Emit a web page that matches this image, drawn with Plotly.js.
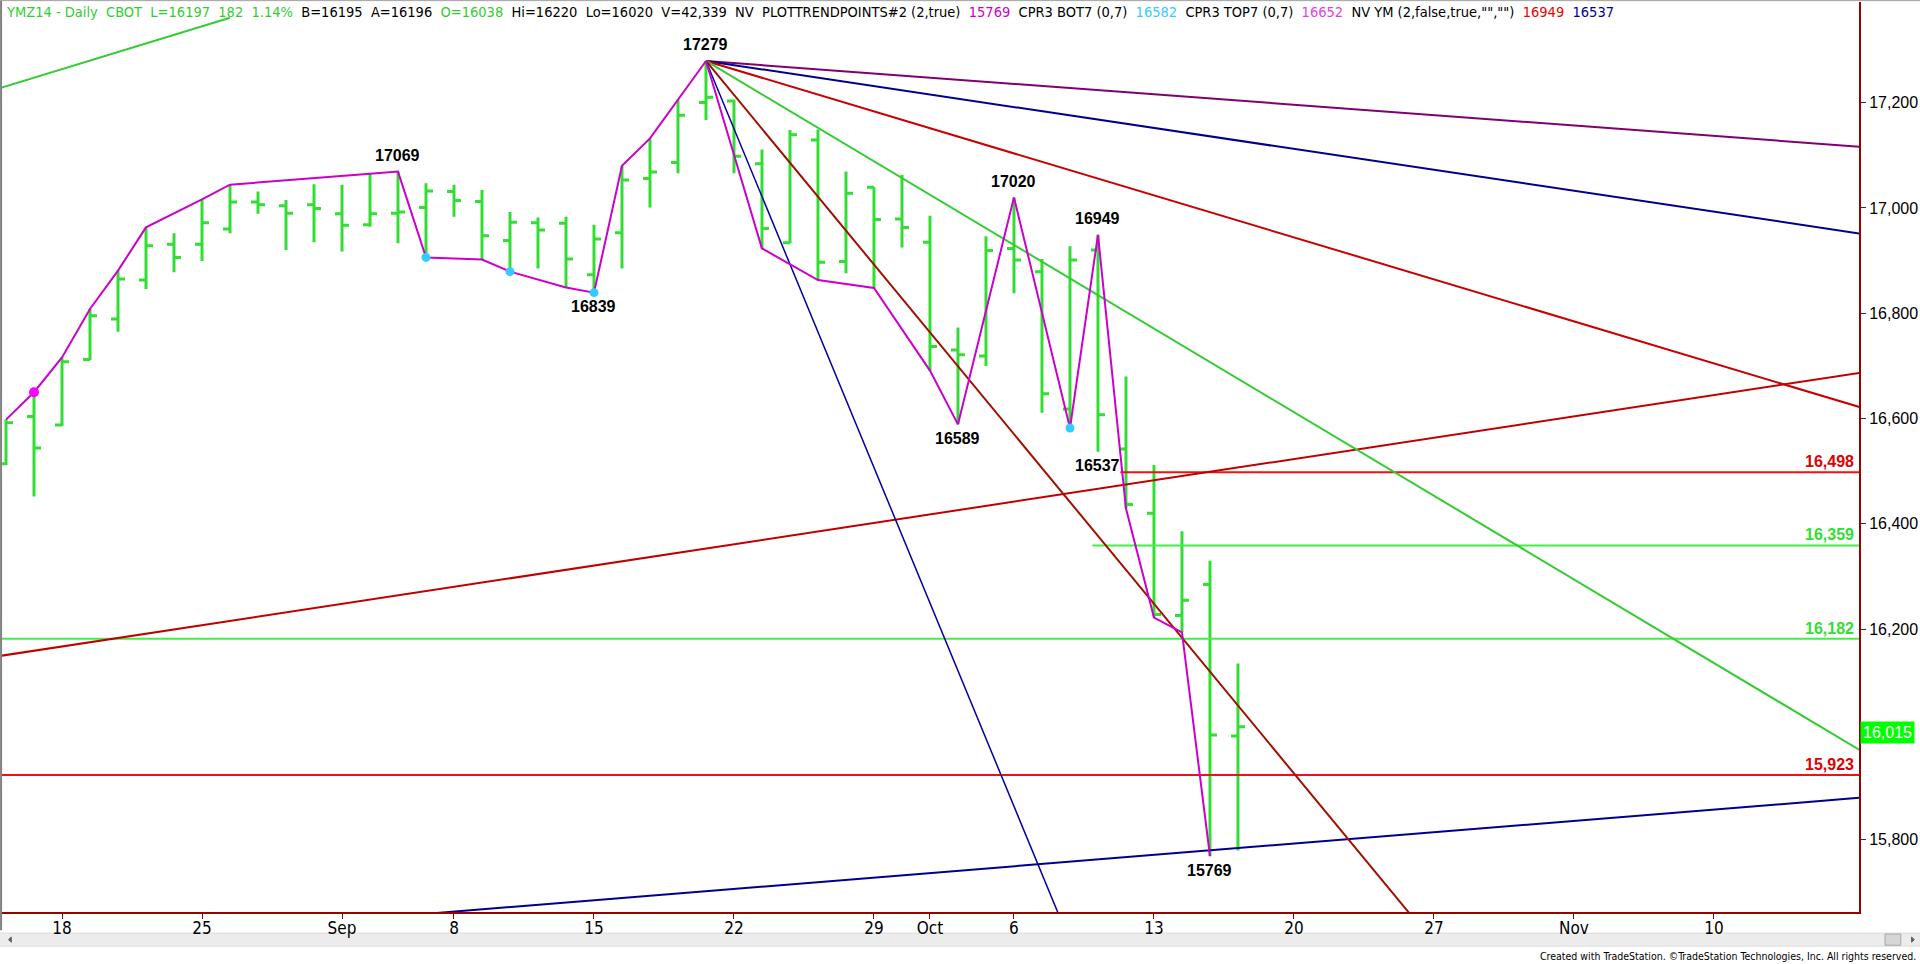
<!DOCTYPE html>
<html>
<head>
<meta charset="utf-8">
<script src="https://cdn.plot.ly/plotly-3.0.1.min.js"></script>
<style>
html,body{margin:0;padding:0;background:#ffffff;overflow:hidden;}
#chart{width:1920px;height:964px;}
</style>
</head>
<body>
<div id="chart"></div>
<script>
// ---------- DATA ----------
const sessionDates = [
  '2014-08-14','2014-08-15','2014-08-18','2014-08-19','2014-08-20','2014-08-21','2014-08-22',
  '2014-08-25','2014-08-26','2014-08-27','2014-08-28','2014-08-29',
  '2014-09-02','2014-09-03','2014-09-04','2014-09-05',
  '2014-09-08','2014-09-09','2014-09-10','2014-09-11','2014-09-12',
  '2014-09-15','2014-09-16','2014-09-17','2014-09-18','2014-09-19',
  '2014-09-22','2014-09-23','2014-09-24','2014-09-25','2014-09-26',
  '2014-09-29','2014-09-30','2014-10-01','2014-10-02','2014-10-03',
  '2014-10-06','2014-10-07','2014-10-08','2014-10-09','2014-10-10',
  '2014-10-13','2014-10-14','2014-10-15','2014-10-16','2014-10-17',
  '2014-10-20','2014-10-21','2014-10-22','2014-10-23','2014-10-24',
  '2014-10-27','2014-10-28','2014-10-29','2014-10-30','2014-10-31',
  '2014-11-03','2014-11-04','2014-11-05','2014-11-06','2014-11-07',
  '2014-11-10','2014-11-11','2014-11-12','2014-11-13','2014-11-14',
  '2014-11-17','2014-11-18'
];
const barDates = sessionDates.slice(0, 45);

const openP  = [16514,16604,16588,16712,16789,16863,16931,16931,16960,17011,17004,17006,
                16989,16968,16990,17001,17031,17012,16938,16972,16971,16873,16953,17056,17086,17200,
                17203,17084,16934,17129,16898,17039,16979,16935,16730,16719,16923,16879,16618,16920,16542,
                16420,16226,16285,15997];
const highP  = [16598,16650,16716,16808,16881,16963,16952,17016,17044,17031,17015,17045,
                17044,17065,17069,17047,17044,17034,16992,16982,16983,16968,17080,17132,17206,17279,
                17206,17111,17148,17149,17069,17039,17063,16985,16773,16946,17020,16903,16927,16949,16680,
                16512,16386,16330,16135];
const lowP   = [16512,16452,16586,16711,16765,16846,16878,16899,16952,16989,16920,16935,
                16917,16964,16933,16906,16983,16902,16879,16885,16849,16839,16885,17001,17066,17167,
                17066,16923,16933,16863,16876,16848,16925,16691,16589,16700,16838,16611,16582,16537,16429,
                16222,16194,15769,15780];
const closeP = [16592,16544,16708,16795,16865,16928,16906,16972,17011,17006,16990,16999,
                16967,16989,16992,17032,17014,16947,16973,16958,16903,16941,17053,17068,17176,17210,
                17098,16961,17139,16897,17028,16978,16963,16737,16721,16919,16901,16647,16901,16607,16437,
                16228,16255,15999,16015];

const tickDates = ['2014-08-18','2014-08-25','2014-09-02','2014-09-08','2014-09-15','2014-09-22',
                   '2014-09-29','2014-10-01','2014-10-06','2014-10-13','2014-10-20','2014-10-27',
                   '2014-11-03','2014-11-10'];
const tickText  = ['18','25','Sep','8','15','22','29','Oct','6','13','20','27','Nov','10'];
const priceTicks = [15800,16000,16200,16400,16600,16800,17000,17200];

// swing (trend point) line: bar date + which extreme
const swingDates = ['2014-08-14','2014-08-15','2014-08-18','2014-08-19','2014-08-20','2014-08-21',
                    '2014-08-25','2014-08-26','2014-09-03','2014-09-04','2014-09-05','2014-09-09',
                    '2014-09-10','2014-09-12','2014-09-15','2014-09-16','2014-09-17','2014-09-18',
                    '2014-09-19','2014-09-23','2014-09-25','2014-09-29','2014-10-01','2014-10-02',
                    '2014-10-06','2014-10-08','2014-10-09','2014-10-10','2014-10-13','2014-10-14',
                    '2014-10-15'];
const swingSide  = ['H','H','H','H','H','H','H','H','H','H','L','L','L','L','L','H','H','H','H',
                    'L','L','L','L','L','H','L','H','L','L','L','L'];

const cprBotDates = ['2014-09-05','2014-09-10','2014-09-15','2014-10-08'];
const cprTopDates = ['2014-08-15'];

const pivotDates = ['2014-09-19','2014-09-04','2014-09-15','2014-10-06','2014-10-09','2014-10-02','2014-10-09','2014-10-15'];
const pivotSide  = ['H','H','L','H','H','L','L','L'];

// trend lines: [date1, price1, date2, price2]
const purpleLine    = ['2014-09-19',17279,'2014-11-17',17117];
const navyLine      = ['2014-09-19',17279,'2014-11-17',16953];
const redFanLine    = ['2014-09-19',17279,'2014-11-17',16625];
const greenFanLine  = ['2014-09-19',17279,'2014-11-17',15977];
const darkRedLine   = ['2014-09-19',17279,'2014-10-16',16055];
const steepBlueLine = ['2014-09-19',17279,'2014-10-02',16121];
const risingRedLine = ['2014-08-14',16151,'2014-11-17',16685];
const supportLine   = ['2014-10-15',15780,'2014-11-17',15879];
const earlyGreenLine= ['2014-08-14',17231,'2014-08-26',17361];

const levelPrices = [16498,16359,16182,15923];
const levelStart  = ['2014-10-10','2014-10-09',null,null];

const lastPrice = 16015;

const headerParts = [
  ['YMZ14 - Daily  CBOT  L=16197  182  1.14%','g'],
  ['  B=16195  A=16196  ','k'],
  ['O=16038','g'],
  ['  Hi=16220  Lo=16020  V=42,339  NV  PLOTTRENDPOINTS#2 (2,true)  ','k'],
  ['15769','m'],
  ['  CPR3 BOT7 (0,7)  ','k'],
  ['16582','c'],
  ['  CPR3 TOP7 (0,7)  ','k'],
  ['16652','m2'],
  ['  NV YM (2,false,true,&#34;&#34;,&#34;&#34;)  ','k'],
  ['16949','r'],
  ['  ','k'],
  ['16537','b']
];
const footerText = 'Created with TradeStation. \u00A9TradeStation Technologies, Inc. All rights reserved.';

// ---------- BUILD ----------
const idx = d => sessionDates.indexOf(d);
const X_MIN = -0.143, X_MAX = 66.18;
const Y_MIN = 15663, Y_MAX = 17391;
const NARROW = '"Liberation Sans Narrow", "Arial Narrow", "DejaVu Sans Condensed", sans-serif';
const ARIAL = '"Liberation Sans", Arial, sans-serif';

const barX = barDates.map(idx);
const traces = [];

function lineTrace(spec, color, width, mode) {
  const x1 = idx(spec[0]), p1 = spec[1], x2 = idx(spec[2]), p2 = spec[3];
  const m = (p2 - p1) / (x2 - x1);
  let xa, xb;
  if (mode === 'fromFirst') { xa = x1; xb = X_MAX + 1; }
  else if (mode === 'segmentLeft') { xa = X_MIN - 1; xb = x2; }
  else { xa = X_MIN - 1; xb = X_MAX + 1; }
  traces.push({
    type: 'scatter', mode: 'lines', x: [xa, xb],
    y: [p1 + m * (xa - x1), p1 + m * (xb - x1)],
    line: {color: color, width: width}, hoverinfo: 'skip'
  });
}

// horizontal levels
const levelColors = ['#ee1111', '#44ee44', '#44ee44', '#ee1111'];
levelPrices.forEach((p, i) => {
  const xa = levelStart[i] ? idx(levelStart[i]) - 0.2 : X_MIN - 1;
  traces.push({type:'scatter', mode:'lines', x:[xa, X_MAX + 1], y:[p, p],
    line:{color: levelColors[i], width: 2}, hoverinfo:'skip'});
});

lineTrace(risingRedLine, '#c00000', 2, 'full');
lineTrace(supportLine, '#000090', 2, 'full');
lineTrace(earlyGreenLine, '#33cc33', 2, 'segmentLeft');
lineTrace(purpleLine, '#800070', 2, 'fromFirst');
lineTrace(navyLine, '#00008c', 2, 'fromFirst');
lineTrace(redFanLine, '#c80000', 2, 'fromFirst');
lineTrace(greenFanLine, '#33cc33', 2, 'fromFirst');
lineTrace(darkRedLine, '#a01000', 2, 'fromFirst');
lineTrace(steepBlueLine, '#0000a0', 1.5, 'fromFirst');

// OHLC bars
traces.push({
  type: 'ohlc', x: barX, open: openP, high: highP, low: lowP, close: closeP,
  increasing: {line: {color: '#33dd33', width: 3}},
  decreasing: {line: {color: '#33dd33', width: 3}},
  tickwidth: 0.25, hoverinfo: 'skip'
});

// swing line
const swX = swingDates.map(idx);
const swY = swingDates.map((d, i) => swingSide[i] === 'H' ? highP[idx(d)] : lowP[idx(d)]);
traces.push({type:'scatter', mode:'lines', x: swX, y: swY,
  line:{color:'#cc00cc', width:2}, hoverinfo:'skip'});

// CPR markers
traces.push({type:'scatter', mode:'markers', x: cprBotDates.map(idx),
  y: cprBotDates.map(d => lowP[idx(d)]),
  marker:{color:'#33ccff', size:9}, hoverinfo:'skip'});
traces.push({type:'scatter', mode:'markers', x: cprTopDates.map(idx),
  y: cprTopDates.map(d => highP[idx(d)]),
  marker:{color:'#ff00ff', size:10, symbol:'circle'}, hoverinfo:'skip'});

// annotations
const annotations = [];
pivotDates.forEach((d, i) => {
  const k = idx(d);
  const v = pivotSide[i] === 'H' ? highP[k] : lowP[k];
  annotations.push({x: k, y: v, xref:'x', yref:'y', text: String(v), showarrow:false,
    yshift: pivotSide[i] === 'H' ? 16 : -14, xanchor:'center', yanchor:'middle',
    font:{family: ARIAL, size:16, color:'#000000', weight:'bold'}});
});
const fmt = v => v.toLocaleString('en-US');
levelPrices.forEach((p, i) => {
  annotations.push({x: 1, xref:'paper', y: p, yref:'y', text: '<b>' + fmt(p) + '</b>',
    showarrow:false, xanchor:'right', yanchor:'bottom', xshift:-3, yshift:0,
    font:{family: ARIAL, size:16, color: i === 0 || i === 3 ? '#e00000' : '#33dd33'}});
});
annotations.push({x: 1, xref:'paper', y: lastPrice, yref:'y', text: fmt(lastPrice),
  showarrow:false, xanchor:'left', yanchor:'middle', xshift:1, yshift:-6,
  bgcolor:'#00ff00', borderpad:2, font:{family: ARIAL, size:16, color:'#ffffff'}});

const colorMap = {g:'#33cc33', k:'#000000', m:'#cc00cc', m2:'#dd44dd', c:'#33ccff', r:'#ee0000', b:'#000099'};
const headerHtml = headerParts.map(p =>
  '<span style="color:' + colorMap[p[1]] + '">' + p[0].replace(/ /g, '\u00A0') + '</span>').join('');
annotations.push({x: 0, xref:'paper', y: 1, yref:'paper', text: headerHtml, showarrow:false,
  xanchor:'left', yanchor:'top', xshift: 2, yshift: 0,
  font:{family: NARROW, size:14.5, color:'#000000'}});
annotations.push({x: 1.0318, xref:'paper', y: -0.0484, yref:'paper', text: footerText,
  showarrow:false, xanchor:'right', yanchor:'middle',
  font:{family: NARROW, size:10.5, color:'#000000'}});

const shapes = [
  // scrollbar band
  {type:'rect', xref:'paper', yref:'paper', x0:-0.002, x1:1.033, y0:-0.0375, y1:-0.0232,
   fillcolor:'#ececec', line:{color:'#dcdcdc', width:1}, layer:'below'},
  {type:'rect', xref:'paper', yref:'paper', x0:1.0140, x1:1.0225, y0:-0.0365, y1:-0.0242,
   fillcolor:'#d6d6d6', line:{color:'#a8a8a8', width:1}},
  {type:'path', xref:'paper', yref:'paper', path:'M 0.0050 -0.0275 L 0.0050 -0.0332 L 0.0035 -0.0304 Z',
   fillcolor:'#606060', line:{color:'#606060', width:1}},
  {type:'path', xref:'paper', yref:'paper', path:'M 1.0283 -0.0275 L 1.0283 -0.0332 L 1.0298 -0.0304 Z',
   fillcolor:'#606060', line:{color:'#606060', width:1}},
  // left / top frame
  {type:'line', xref:'paper', yref:'paper', x0:-0.0005, x1:-0.0005, y0:-0.02, y1:1.002,
   line:{color:'#808080', width:2}},
  {type:'line', xref:'paper', yref:'paper', x0:-0.001, x1:1.033, y0:1.0015, y1:1.0015,
   line:{color:'#a0a0a0', width:1}}
];

const layout = {
  width: 1920, height: 964,
  margin: {l: 2, r: 61, t: 2, b: 52, pad: 0},
  paper_bgcolor: '#ffffff', plot_bgcolor: '#ffffff',
  showlegend: false,
  xaxis: {
    range: [X_MIN, X_MAX], fixedrange: true, rangeslider: {visible: false},
    tickmode: 'array', tickvals: tickDates.map(idx), ticktext: tickText,
    ticks: 'outside', ticklen: 5, tickwidth: 1, tickcolor: '#990000',
    ticklabelstandoff: -5,
    showline: true, linecolor: '#990000', linewidth: 2,
    showgrid: false, zeroline: false,
    tickfont: {family: NARROW, size: 17, color: '#000000'}
  },
  yaxis: {
    range: [Y_MIN, Y_MAX], fixedrange: true, side: 'right',
    tickmode: 'array', tickvals: priceTicks,
    ticktext: priceTicks.map(v => v === 16000 ? '' : fmt(v)),
    ticks: 'outside', ticklen: 5, tickwidth: 1, tickcolor: '#333333',
    showline: true, linecolor: '#990000', linewidth: 2,
    showgrid: false, zeroline: false,
    tickfont: {family: ARIAL, size: 16, color: '#000000'}
  },
  annotations: annotations,
  shapes: shapes
};

Plotly.newPlot('chart', traces, layout, {staticPlot: true, displayModeBar: false});
</script>
</body>
</html>
